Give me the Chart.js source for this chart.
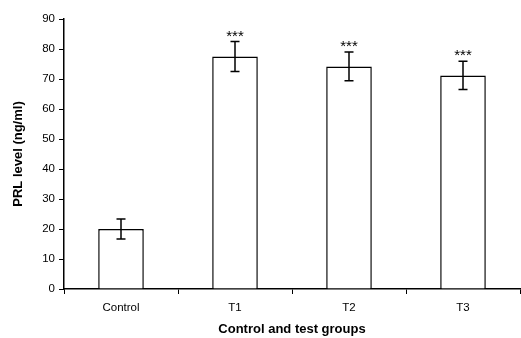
<!DOCTYPE html>
<html>
<head>
<meta charset="utf-8">
<script src="https://cdn.jsdelivr.net/npm/chart.js@4"></script>
<style>
html,body{margin:0;padding:0;background:#fff;}
#wrap{width:521px;height:338px;position:relative;}
</style>
</head>
<body>
<div id="wrap"><canvas id="c" width="521" height="338"></canvas></div>
<script>
const categories = ["Control", "T1", "T2", "T3"];
const meanValues = [20.0, 77.5, 74.2, 71.2];
const errorValues = [3.3, 5.0, 4.8, 4.7];
const significance = ["", "***", "***", "***"];
const yTicks = [0, 10, 20, 30, 40, 50, 60, 70, 80, 90];

const errorBarPlugin = {
  id: 'errorBars',
  afterDatasetsDraw(chart) {
    const ctx = chart.ctx;
    const meta = chart.getDatasetMeta(0);
    const y = chart.scales.y;
    ctx.save();
    ctx.strokeStyle = '#000';
    ctx.lineWidth = 1.5;
    meta.data.forEach((bar, i) => {
      const x = bar.x;
      const top = y.getPixelForValue(meanValues[i] + errorValues[i]);
      const bot = y.getPixelForValue(meanValues[i] - errorValues[i]);
      const cap = 4.5;
      ctx.beginPath();
      ctx.moveTo(x, top); ctx.lineTo(x, bot);
      ctx.moveTo(x - cap, top); ctx.lineTo(x + cap, top);
      ctx.moveTo(x - cap, bot); ctx.lineTo(x + cap, bot);
      ctx.stroke();
      if (significance[i]) {
        ctx.fillStyle = '#000';
        ctx.font = '15px "Liberation Sans", Arial, sans-serif';
        ctx.textAlign = 'center';
        ctx.textBaseline = 'alphabetic';
        ctx.fillText(significance[i], x, top - 1);
      }
    });
    ctx.restore();
  }
};

new Chart(document.getElementById('c'), {
  type: 'bar',
  data: {
    labels: categories,
    datasets: [{
      data: meanValues,
      backgroundColor: '#ffffff',
      borderColor: '#000000',
      borderWidth: 1.5,
      barPercentage: 0.8,
      categoryPercentage: 0.5
    }]
  },
  options: {
    responsive: false,
    animation: false,
    events: [],
    layout: { padding: { top: 19, right: 1, left: 0, bottom: 0 } },
    plugins: { legend: { display: false }, tooltip: { enabled: false } },
    scales: {
      x: {
        grid: { display: true, drawOnChartArea: false, drawTicks: true, tickLength: 5, offset: true, color: '#000', lineWidth: 1 },
        border: { display: true, color: '#000', width: 1.5 },
        ticks: { color: '#000', font: { family: '"Liberation Sans", Arial, sans-serif', size: 11.5 }, padding: 7 },
        title: { display: true, text: 'Control and test groups', color: '#000',
                 font: { family: '"Liberation Sans", Arial, sans-serif', size: 13, weight: 'bold' },
                 padding: { top: 0, bottom: 1 } },
        afterFit(s) { s.height = 49; }
      },
      y: {
        min: 0, max: 90,
        afterBuildTicks(s) { s.ticks = yTicks.map(v => ({ value: v })); },
        grid: { display: true, drawOnChartArea: false, drawTicks: true, tickLength: 5, color: '#000', lineWidth: 1 },
        border: { display: true, color: '#000', width: 1.5 },
        ticks: { color: '#000', font: { family: '"Liberation Sans", Arial, sans-serif', size: 11.5 }, padding: 4 },
        title: { display: true, text: 'PRL level (ng/ml)', color: '#000',
                 font: { family: '"Liberation Sans", Arial, sans-serif', size: 13, weight: 'bold' },
                 padding: { top: 11, bottom: 0 } },
        afterFit(s) { s.width = 64; }
      }
    }
  },
  plugins: [errorBarPlugin]
});
</script>
</body>
</html>
